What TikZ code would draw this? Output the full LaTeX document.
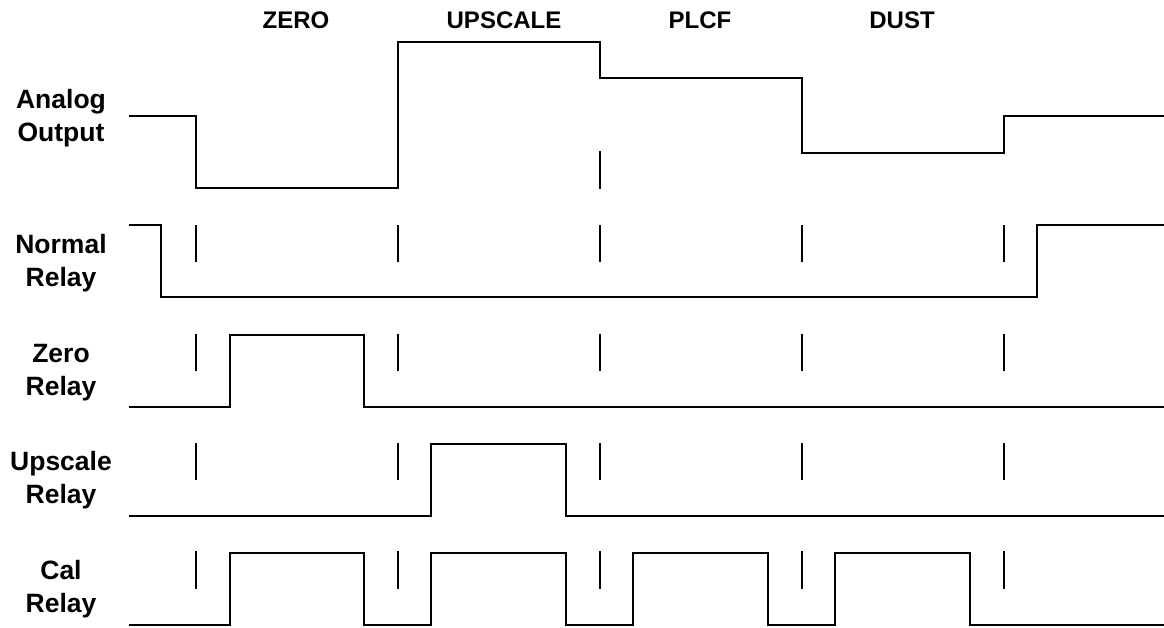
\documentclass[tikz,border=0pt]{standalone}
\usepackage{fontspec}
\setmainfont{Liberation Sans}
\begin{document}
\begin{tikzpicture}[x=1pt,y=-1pt,
  wave/.style={line width=2.5pt,line join=miter},
  tick/.style={line width=2.5pt},
  phase/.style={font=\fontsize{24}{28}\selectfont\bfseries,anchor=base,inner sep=0pt},
  sig/.style={font=\fontsize{26.5}{33}\selectfont\bfseries,align=center,inner sep=0pt}]
\useasboundingbox (0,0) rectangle (1164,627);
% phase labels
\node[phase] (pz) at (296,28) {ZERO};
\node[phase] (pu) at (504,28) {UPSCALE};
\node[phase] (pp) at (700,28) {PLCF};
\node[phase] (pd) at (902,28) {DUST};
% signal labels
\node[sig] (la) at (61,118) {Analog\\Output};
\node[sig] (ln) at (61,263) {Normal\\Relay};
\node[sig] (lz) at (61,373) {Zero\\Relay};
\node[sig] (lu) at (61,480) {Upscale\\Relay};
\node[sig] (lc) at (61,589) {Cal\\Relay};
% analog output
\draw[wave] (129,116) -- (196,116) -- (196,188) -- (398,188) -- (398,42) -- (600,42) -- (600,78) -- (802,78) -- (802,153) -- (1004,153) -- (1004,116) -- (1164,116);
\draw[tick] (600,151) -- (600,189);
% normal relay
\draw[wave] (129,225) -- (161,225) -- (161,297) -- (1037,297) -- (1037,225) -- (1164,225);
% zero relay
\draw[wave] (129,407) -- (230,407) -- (230,335) -- (364,335) -- (364,407) -- (1164,407);
% upscale relay
\draw[wave] (129,516) -- (431,516) -- (431,444) -- (566,444) -- (566,516) -- (1164,516);
% cal relay
\draw[wave] (129,625) -- (230,625) -- (230,553) -- (364,553) -- (364,625) -- (431,625) -- (431,553) -- (566,553) -- (566,625) -- (633,625) -- (633,553) -- (768,553) -- (768,625) -- (835,625) -- (835,553) -- (970,553) -- (970,625) -- (1164,625);
% ticks
\foreach \x in {196,398,600,802,1004}{
  \draw[tick] (\x,225) -- (\x,262);
  \draw[tick] (\x,334) -- (\x,371);
  \draw[tick] (\x,443) -- (\x,480);
  \draw[tick] (\x,551) -- (\x,589);
}
\end{tikzpicture}
\end{document}
